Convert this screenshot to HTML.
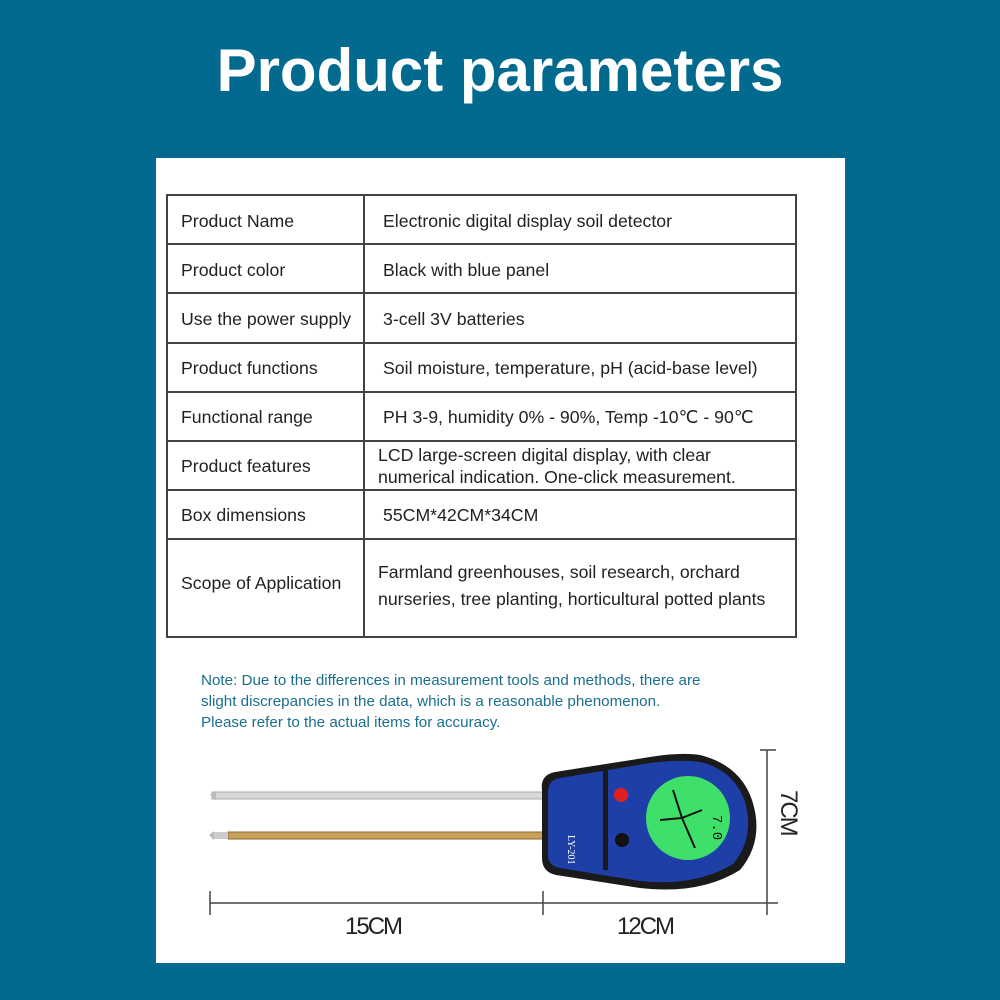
<!DOCTYPE html>
<html><head><meta charset="utf-8"><style>
body{margin:0;width:1000px;height:1000px;background:#016a8e;position:relative;overflow:hidden;font-family:"Liberation Sans",Arial,sans-serif}
h1{position:absolute;top:36px;left:0;width:1000px;text-align:center;margin:0;color:#fff;font-size:60px;font-weight:bold}
.panel{position:absolute;left:156px;top:158px;width:689px;height:805px;background:#fff}
.hl{position:absolute;left:166px;width:631px;height:2px;background:#444}
.vl{position:absolute;top:194px;height:444px;width:2px;background:#444}
.t{position:absolute;font-size:17.7px;color:#222;line-height:22px;white-space:nowrap}
.note{position:absolute;left:201px;top:670px;color:#1a6f8c;font-size:15.2px;line-height:21px;white-space:nowrap}
</style></head><body>
<h1>Product parameters</h1>
<div class="panel"></div>
<div class="hl" style="top:194px"></div>
<div class="hl" style="top:243px"></div>
<div class="hl" style="top:292px"></div>
<div class="hl" style="top:342px"></div>
<div class="hl" style="top:391px"></div>
<div class="hl" style="top:440px"></div>
<div class="hl" style="top:489px"></div>
<div class="hl" style="top:538px"></div>
<div class="hl" style="top:636px"></div>
<div class="vl" style="left:166px"></div>
<div class="vl" style="left:363px"></div>
<div class="vl" style="left:795px"></div>
<div class="t" style="left:181px;top:210px">Product Name</div>
<div class="t" style="left:383px;top:210px">Electronic digital display soil detector</div>
<div class="t" style="left:181px;top:259px">Product color</div>
<div class="t" style="left:383px;top:259px">Black with blue panel</div>
<div class="t" style="left:181px;top:308px">Use the power supply</div>
<div class="t" style="left:383px;top:308px">3-cell 3V batteries</div>
<div class="t" style="left:181px;top:357px">Product functions</div>
<div class="t" style="left:383px;top:357px">Soil moisture, temperature, pH (acid-base level)</div>
<div class="t" style="left:181px;top:406px">Functional range</div>
<div class="t" style="left:383px;top:406px">PH 3-9, humidity 0% - 90%, Temp -10℃ - 90℃</div>
<div class="t" style="left:181px;top:455px">Product features</div>
<div class="t" style="left:378px;top:444px">LCD large-screen digital display, with clear<br>numerical indication. One-click measurement.</div>
<div class="t" style="left:181px;top:504px">Box dimensions</div>
<div class="t" style="left:383px;top:504px">55CM*42CM*34CM</div>
<div class="t" style="left:181px;top:572px">Scope of Application</div>
<div class="t" style="left:378px;top:559px;line-height:27px">Farmland greenhouses, soil research, orchard<br>nurseries, tree planting, horticultural potted plants</div>
<div class="note">Note: Due to the differences in measurement tools and methods, there are<br>slight discrepancies in the data, which is a reasonable phenomenon.<br>Please refer to the actual items for accuracy.</div>
<svg style="position:absolute;left:0;top:0" width="1000" height="1000">
<rect x="212" y="792" width="332" height="7" fill="#d8d8d8" stroke="#aaa" stroke-width="1"/>
<polygon points="210,795 216,791 216,800" fill="#bbb"/>
<rect x="228" y="832" width="316" height="7" fill="#c9a15a" stroke="#8a6a30" stroke-width="1"/>
<rect x="212" y="832" width="16" height="7" fill="#ccc"/>
<polygon points="209,835 214,831 214,840" fill="#bbb"/>
<path d="M555,772 Q540,775 542,790 L542,858 Q542,872 556,875 L640,888 Q700,895 740,870 Q765,840 752,800 Q740,765 700,755 Q680,752 650,757 Z" fill="#1a1a1a"/>
<path d="M560,778 Q548,780 548,792 L548,855 Q548,866 560,868 L640,881 Q695,887 733,864 Q755,838 745,802 Q734,770 700,762 Q680,759 650,763 Z" fill="#1e3fa8"/>
<rect x="603" y="770" width="5" height="100" fill="#1a1a1a"/>
<circle cx="688" cy="818" r="42" fill="#3ee06a"/>
<path d="M673,790 L682,818 L660,820 M682,818 L695,848 M682,818 L702,810" stroke="#111" stroke-width="2" fill="none"/>
<text x="700" y="812" font-size="14" font-family="Liberation Mono" transform="rotate(90 705 820)" fill="#111">7.0</text>
<circle cx="621" cy="795" r="7" fill="#e02020"/>
<circle cx="622" cy="840" r="7" fill="#111"/>
<text x="568" y="835" font-size="10" fill="#fff" font-family="Liberation Serif" transform="rotate(90 568 835)">LY-201</text>
<g stroke="#444" stroke-width="1.5">
<line x1="210" y1="903" x2="778" y2="903"/><line x1="210" y1="891" x2="210" y2="915"/>
<line x1="543" y1="891" x2="543" y2="915"/><line x1="767" y1="750" x2="767" y2="915"/>
<line x1="760" y1="750" x2="776" y2="750"/>
</g>
<text x="345" y="934" font-size="24" fill="#222" letter-spacing="-2">15CM</text>
<text x="617" y="934" font-size="24" fill="#222" letter-spacing="-2">12CM</text>
<text x="0" y="0" font-size="24" fill="#222" letter-spacing="-2" transform="translate(781,790) rotate(90)">7CM</text>
</svg>
</body></html>
